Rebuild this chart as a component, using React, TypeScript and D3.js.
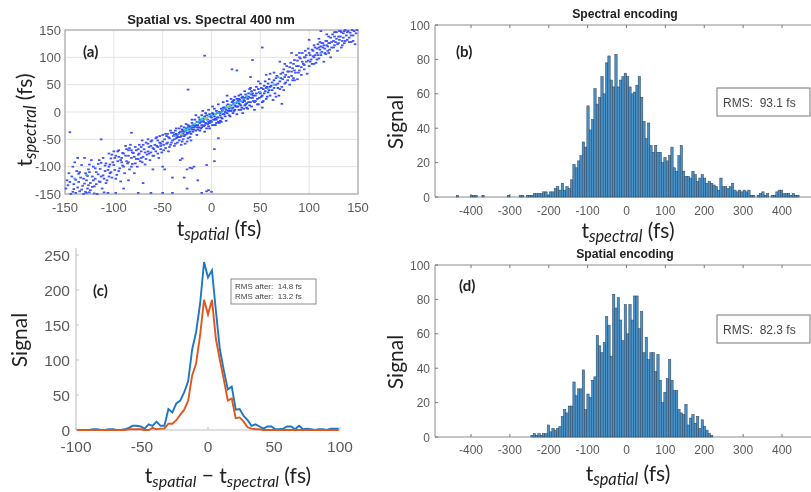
import React from "react";
import * as d3 from "d3";

// ---------- panel (a): cells, [tSpatial, tSpectral]
const outlierCells: number[][] = [[-7,103],[21,78],[26,76],[52,118],[42,95],[-24,41],[-145,-37],[-113,-50],[-82,-38],[7,-48],[-22,-102],[-20,-103],[-18,-100],[-25,-105],[-14,-125],[-5,-97],[3,-68],[3,-90],[-25,-140],[-10,-148],[-5,-145],[-3,-143],[0,-146],[-40,-148],[-50,-148],[72,15],[-32,-88],[-50,-100],[-48,-105],[-60,-105],[-28,-120],[-30,-85],[-70,-130],[-85,-125],[-98,-148],[-75,-148],[-62,-148],[-90,-140],[-40,-120]];
const lowBandCells: number[][] = [[-149,-140],[-148,-125],[-146,-112],[-144,-150],[-143,-118],[-142,-100],[-141,-132],[-140,-92],[-139,-148],[-138,-108],[-137,-84],[-136,-128],[-135,-145],[-134,-120],[-133,-97],[-132,-135],[-131,-150],[-130,-84],[-129,-112],[-128,-125],[-127,-140],[-126,-105],[-125,-147],[-124,-130],[-123,-88],[-122,-118],[-121,-100],[-120,-136],[-119,-122],[-118,-110],[-117,-150],[-116,-95],[-115,-127],[-114,-104],[-113,-118],[-112,-140],[-111,-84],[-110,-122],[-109,-108],[-108,-94],[-107,-125],[-106,-148],[-105,-100],[-104,-112],[-103,-85],[-102,-120],[-101,-92],[-100,-72],[-99,-106],[-98,-80],[-97,-115],[-96,-90],[-95,-70],[-94,-103],[-93,-127],[-92,-84],[-91,-98],[-90,-76],[-89,-112],[-88,-62],[-87,-90],[-86,-94],[-85,-70],[-84,-105],[-83,-60],[-82,-84],[-81,-95],[-80,-75],[-79,-112],[-78,-64],[-77,-86],[-76,-100],[-75,-78],[-74,-60],[-73,-90],[-72,-72],[-71,-52],[-70,-82],[-69,-68],[-68,-96],[-67,-56],[-66,-78],[-65,-72],[-64,-64],[-63,-88],[-62,-74],[-61,-52],[-60,-66],[-59,-80],[-58,-60],[-57,-72],[-56,-46],[-55,-64],[-54,-84],[-53,-56],[-52,-68],[-51,-74],[-50,-42],[-49,-60],[-48,-50],[-47,-66],[-46,-44],[-45,-56],[-44,-72],[-43,-48],[-42,-60],[-41,-38],[-40,-52],[-39,-44],[-38,-62],[-37,-34],[-36,-48],[-35,-56],[-34,-40],[-33,-30],[-32,-46],[-31,-60],[-30,-36],[-29,-50],[-28,-28],[-27,-42],[-26,-34],[-25,-54],[-24,-24],[-23,-38],[-22,-46],[-21,-30],[-20,-20],[-142,-146],[-128,-148],[-110,-147],[-120,-149],[-135,-110],[-125,-96],[-115,-88],[-105,-76],[-95,-82],[-85,-80],[-75,-68],[-65,-58],[-55,-52],[-45,-40],[-35,-46],[-104,-96],[-92,-92],[-82,-70],[-72,-84],[-62,-62],[-52,-58]];
const lowBandMore: number[][] = [[-147,-134],[-145,-128],[-141,-141],[-139,-124],[-137,-138],[-136,-113],[-133,-142],[-131,-122],[-130,-131],[-129,-146],[-127,-117],[-126,-134],[-125,-110],[-124,-143],[-122,-137],[-121,-125],[-119,-103],[-118,-132],[-116,-114],[-114,-128],[-113,-93],[-111,-116],[-109,-98],[-108,-130],[-106,-106],[-105,-118],[-103,-110],[-102,-78],[-100,-97],[-99,-84],[-98,-122],[-96,-72],[-95,-108],[-93,-88],[-91,-75],[-90,-100],[-88,-80],[-87,-68],[-85,-92],[-84,-66],[-82,-100],[-81,-74],[-79,-82],[-78,-94],[-77,-70],[-75,-86],[-74,-76],[-72,-64],[-71,-92],[-70,-60],[-68,-74],[-67,-86],[-65,-50],[-64,-76],[-62,-54],[-60,-80],[-59,-68],[-57,-48],[-56,-62],[-55,-76],[-53,-44],[-52,-62],[-50,-54],[-49,-70],[-47,-40],[-46,-58],[-44,-46],[-43,-64],[-42,-34],[-41,-56],[-39,-38],[-38,-50],[-37,-58],[-36,-30],[-35,-42],[-33,-52],[-32,-36],[-31,-26],[-30,-54],[-29,-34],[-28,-44],[-27,-58],[-26,-22],[-25,-40],[-24,-48],[-23,-28],[-22,-36],[-21,-52],[-20,-32]];
const coreCells: number[][] = [[-19,-36],[-18,-28],[-17,-14],[-16,-24],[-15,-42],[-14,-32],[-13,-10],[-12,-20],[-11,-30],[-10,-6],[-9,-16],[-8,-26],[-7,-36],[-6,-2],[-5,-12],[-4,-22],[-3,4],[-2,-30],[-1,-8],[0,-18],[1,10],[2,-4],[3,-14],[4,-24],[5,2],[6,-10],[7,14],[8,-20],[9,-2],[10,6],[11,-12],[12,18],[13,-4],[14,8],[15,-16],[16,20],[17,2],[18,12],[19,-8],[20,24],[21,6],[22,-2],[23,16],[24,28],[25,10],[26,-4],[27,20],[28,4],[29,14],[30,32],[31,8],[32,-2],[33,22],[34,38],[35,14],[36,28],[37,6],[38,18],[39,42],[40,26],[41,10],[42,34],[43,20],[44,4],[45,30],[46,46],[47,24],[48,14],[49,36],[50,52],[51,28],[52,18],[53,42],[54,34],[55,56],[56,24],[57,46],[58,36],[59,60],[60,30],[61,48],[62,40],[63,22],[64,58],[65,34],[66,50],[67,66],[68,44],[69,30],[70,56],[-16,-6],[-9,2],[-3,-26],[3,6],[9,-16],[16,30],[23,2],[28,30],[34,12],[41,32]];
const coreMore: number[][] = [[-38,-42],[-36,-40],[-34,-46],[-33,-38],[-31,-44],[-30,-32],[-29,-40],[-28,-36],[-26,-30],[-25,-38],[-24,-28],[-23,-32],[-22,-26],[-21,-40],[-20,-28],[-19,-24],[-18,-32],[-17,-26],[-16,-34],[-15,-18],[-14,-24],[-13,-28],[-12,-14],[-11,-18],[-10,-24],[-9,-12],[-8,-18],[-7,-8],[-6,-20],[-5,-6],[-4,-14],[-3,-18],[-2,-4],[-1,-16],[0,-10],[1,-24],[2,-14],[3,-8],[4,-12],[5,-20],[6,-2],[7,-10],[8,0],[9,-6],[10,-10],[11,2],[12,-4],[13,8],[14,0],[15,4],[16,-2],[17,14],[18,6],[19,2],[20,12],[21,18],[22,8],[23,22],[24,4],[25,16],[26,24],[27,10],[28,16],[29,22],[30,12],[31,26],[32,18],[33,6],[34,26],[35,32],[36,16],[37,24],[38,34],[39,12],[40,18],[41,38],[42,26],[43,30],[44,40],[45,20],[46,34],[47,14],[48,42],[49,26],[50,34],[51,44],[52,30],[53,20],[54,48],[55,38],[56,44],[57,28],[58,52],[59,40],[60,46],[-20,-14],[-15,-28],[-12,-34],[-10,-28],[-7,-24],[-5,-30],[-2,-20],[1,-2],[3,-24],[5,-14],[7,-18],[10,-18],[12,8],[14,-8],[16,12],[18,-6],[20,2],[22,20],[24,12],[26,10],[28,24],[30,4],[32,28],[34,20],[36,8],[38,28],[40,44]];
const highBandCells: number[][] = [[71,70],[72,46],[73,60],[74,78],[75,52],[76,68],[77,84],[78,58],[79,74],[80,50],[81,90],[82,66],[83,80],[84,62],[85,95],[86,72],[87,104],[88,60],[89,84],[90,76],[91,98],[92,68],[93,108],[94,88],[95,78],[96,100],[97,92],[98,70],[99,116],[100,84],[101,104],[102,96],[103,88],[104,112],[105,100],[106,118],[107,90],[108,108],[109,124],[110,98],[111,114],[112,104],[113,126],[114,118],[115,92],[116,108],[117,130],[118,122],[119,112],[120,138],[121,126],[122,100],[123,118],[124,142],[125,130],[126,122],[127,146],[128,134],[129,112],[130,126],[131,148],[132,138],[133,118],[134,130],[135,144],[136,126],[137,150],[138,140],[139,132],[140,148],[141,136],[142,145],[143,128],[144,150],[145,140],[146,148],[147,124],[148,144],[149,150],[112,148],[100,132],[90,108],[82,108],[75,88],[110,134],[118,142],[126,146],[132,148],[70,92],[60,70],[56,68],[48,56],[40,64],[64,72],[74,40],[66,28],[52,8],[44,18],[85,58],[95,100],[105,88],[115,122],[120,108],[108,96]];
const highBandMore: number[][] = [[62,54],[64,44],[66,62],[68,52],[70,42],[71,62],[73,72],[75,64],[76,54],[78,74],[79,64],[80,82],[82,74],[83,58],[84,88],[85,76],[87,84],[88,94],[89,72],[90,100],[92,82],[93,92],[95,86],[96,112],[97,104],[99,94],[100,108],[101,92],[103,114],[104,102],[105,122],[106,104],[108,116],[109,104],[110,118],[111,128],[112,120],[113,110],[114,126],[116,116],[117,106],[118,130],[119,120],[120,126],[121,114],[122,136],[123,128],[125,118],[126,138],[127,128],[128,146],[129,124],[130,138],[131,132],[133,146],[134,122],[135,136],[136,148],[137,130],[139,146],[141,128],[143,140],[145,130]];
// the densest cells, by colour level
const midCells: number[][] = [[-34,-40],[-30,-42],[-27,-34],[-24,-30],[-20,-26],[-17,-22],[-14,-18],[-10,-14],[-6,-12],[-3,-8],[0,-6],[4,-4],[7,-2],[12,4],[15,8],[18,10],[22,14],[26,18],[30,20],[36,28],[40,34],[58,42],[68,64],[-140,-122],[-128,-115],[112,108],[-22,-30],[-12,-16],[-8,-14],[10,0],[20,8],[28,18],[33,24],[64,50],[50,36],[-38,-44]];
const hotCells: number[][] = [[-27,-32],[-24,-34],[-18,-22],[-10,-13],[-6,-11],[4,-3],[16,9],[19,12],[24,16],[36,30]];
const peakCells: number[][] = [[-5,-12],[17,11],[-31,-40]];

// ---------- panel (c)
const diffX: number[] = d3.range(-99, 100, 3);
const blueCounts: number[] = [0,0,0,0,1,1,0,0,1,1,0,0,1,3,6,6,5,2,8,6,12,6,6,30,25,38,42,54,70,115,140,180,240,218,228,170,115,85,58,62,29,30,20,14,6,8,5,2,5,5,1,1,2,5,5,1,6,1,2,1,0,1,1,0,2,2,2];
const orangeCounts: number[] = [0,0,0,0,0,0,0,0,0,0,0,0,0,1,1,1,1,0,0,3,1,2,2,9,9,14,22,29,42,78,95,135,186,165,186,130,100,72,42,45,17,18,12,4,2,1,1,0,0,0,0,0,0,0,0,0,0,0,0,0,0,0,0,0,0,0,0];
const cLegend: string[] = ["RMS after:  14.8 fs", "RMS after:  13.2 fs"];
const cXTicks: number[] = [-100, -50, 0, 50, 100];
const cYTicks: number[] = [0, 50, 100, 150, 200, 250];

// ---------- histograms (b) and (d): 6 fs bins from -450 fs
const spectralCounts: number[] = [
  0,0,1,0,0,0,0,0,1,1,
  1,0,0,1,0,0,0,0,0,0,
  0,0,0,0,1,0,0,0,0,1,
  1,0,1,1,1,2,2,2,2,3,
  3,1,3,3,5,6,4,8,4,6,
  5,10,19,17,21,24,32,29,53,39,
  45,63,54,58,70,60,78,82,68,64,
  83,64,68,70,72,70,64,60,61,65,
  70,58,44,34,43,30,26,30,26,26,
  20,23,21,24,29,17,15,24,30,15,
  12,12,11,15,13,9,11,13,11,8,
  9,8,7,6,4,11,6,6,5,6,
  8,4,3,4,3,4,3,4,1,1,
  0,1,2,3,1,2,0,1,1,3,
  4,4,2,2,2,1,2,1,1,0,
];
const spatialCounts: number[] = [
  0,0,0,0,0,0,0,0,0,0,
  0,0,0,0,0,0,0,0,0,0,
  0,0,0,0,0,0,0,0,0,0,
  0,0,0,0,1,2,1,2,1,2,
  2,7,3,5,4,5,6,12,16,14,
  18,18,32,24,28,28,39,16,25,23,
  33,35,59,53,49,55,70,65,47,83,
  75,81,68,56,77,60,77,68,82,82,
  63,73,49,58,45,49,49,38,48,33,
  20,26,34,45,33,27,27,16,14,13,
  19,7,11,13,8,12,5,10,6,4,
  2,1,0,0,0,0,0,0,0,0,
  0,0,0,0,0,0,0,0,0,0,
  0,0,0,0,0,0,0,0,0,0,
  0,0,0,0,0,0,0,0,0,0,
];
const histXTicks: number[] = [-400, -300, -200, -100, 0, 100, 200, 300, 400];
const histYTicks: number[] = [0, 20, 40, 60, 80, 100];
const aTicks: number[] = [-150, -100, -50, 0, 50, 100, 150];

const SANS = "'Liberation Sans', Arial, sans-serif";
const LABEL = "Lato, 'Open Sans', sans-serif";
const TICK = "#5a5a5a";

function TSub({ x, y, sub, rest, rotate, size = 21 }: any) {
  return (
    <text x={x} y={y} textAnchor="middle" fontFamily={LABEL} fontSize={size} fill="#222"
      transform={rotate ? `rotate(-90 ${x} ${y})` : undefined}>
      t<tspan fontSize={size * 0.78} fontStyle="italic" dy={size * 0.2}>{sub}</tspan>
      <tspan dy={-size * 0.2}>{rest}</tspan>
    </text>
  );
}

function Panel({ label, lx, ly }: any) {
  return <text x={lx} y={ly} fontFamily={LABEL} fontWeight={700} fontSize={15} fill="#222">{label}</text>;
}

function Hist({ counts, top, bottom, title, titleY, rms, boxY, sub, xlY, tickY, label, lx, ly, ylY }: any) {
  const x = d3.scaleLinear().domain([-400, 400]).range([471, 782]);
  const y = d3.scaleLinear().domain([0, 100]).range([bottom, top]);
  const bw = x(6) - x(0);
  return (
    <g>
      <line x1={435} x2={811} y1={top} y2={top} stroke="#8c8c8c" strokeWidth={1} />
      <line x1={435} x2={811} y1={bottom} y2={bottom} stroke="#8c8c8c" strokeWidth={1} />
      <line x1={435} x2={435} y1={top} y2={bottom} stroke="#8c8c8c" strokeWidth={1} />
      {histXTicks.map((t) => (
        <g key={t}>
          <line x1={x(t)} x2={x(t)} y1={bottom} y2={bottom - 3} stroke="#777" />
          <line x1={x(t)} x2={x(t)} y1={top} y2={top + 3} stroke="#777" />
          <text x={x(t)} y={tickY} textAnchor="middle" fontFamily={SANS} fontSize={12} fill={TICK}>{t}</text>
        </g>
      ))}
      {histYTicks.map((t) => (
        <g key={t}>
          <line x1={435} x2={438} y1={y(t)} y2={y(t)} stroke="#777" />
          <text x={430} y={y(t) + 4.5} textAnchor="end" fontFamily={SANS} fontSize={12} fill={TICK}>{t}</text>
        </g>
      ))}
      {counts.map((c: number, i: number) => {
        const x0 = x(-450 + 6 * i);
        return c > 0 ? (
          <rect key={i} x={x0} y={y(c)} width={bw} height={bottom - y(c)} fill="#4a92c8" stroke="#2a4058" strokeWidth={0.5} />
        ) : null;
      })}
      <text x={625} y={titleY} textAnchor="middle" fontFamily={SANS} fontWeight={700} fontSize={12.2} fill="#222">{title}</text>
      <rect x={717} y={boxY} width={93} height={28} fill="#fff" stroke="#777" strokeWidth={1} />
      <text x={723} y={boxY + 18.5} fontFamily={SANS} fontSize={12} fill="#444" xmlSpace="preserve">{rms}</text>
      <TSub x={628} y={xlY} sub={sub} rest=" (fs)" />
      <text x={403} y={ylY} textAnchor="middle" fontFamily={LABEL} fontSize={21} fill="#222" transform={`rotate(-90 403 ${ylY})`}>Signal</text>
      <Panel label={label} lx={lx} ly={ly} />
    </g>
  );
}

export default function App() {
  // panel (a)
  const ax = d3.scaleLinear().domain([-150, 150]).range([65, 358]);
  const ay = d3.scaleLinear().domain([-150, 150]).range([194, 30]);
  const drawCells = (cells: number[][], color: string, key: string) =>
    cells.map(([cx, cy], i) => (
      <rect key={key + i} x={ax(cx) - 1.3} y={ay(cy) - 0.9} width={2.6} height={1.8} fill={color} />
    ));

  // panel (c)
  const cx = d3.scaleLinear().domain([-100, 100]).range([76, 340]);
  const cy = d3.scaleLinear().domain([0, 250]).range([430, 255]);
  const line = d3.line<number>().x((_, i) => cx(diffX[i])).y((d) => cy(d));

  return (
    <svg width={811} height={492} style={{ position: "absolute", left: 0, top: 0, background: "#fff" }}>
      <defs>
        <filter id="soft" x="-5%" y="-5%" width="110%" height="110%">
          <feGaussianBlur stdDeviation="0.4" />
        </filter>
        <filter id="page" x="0" y="0" width="100%" height="100%">
          <feGaussianBlur stdDeviation="0.3" />
        </filter>
      </defs>

      <g filter="url(#page)">
        <rect x={0} y={0} width={811} height={492} fill="#fff" />
        {/* (a) */}
        <g>
          {aTicks.map((t) => (
            <g key={t}>
              <line x1={ax(t)} x2={ax(t)} y1={30} y2={194} stroke="#e4e4e4" />
              <line x1={65} x2={358} y1={ay(t)} y2={ay(t)} stroke="#e4e4e4" />
              <text x={ax(t)} y={212} textAnchor="middle" fontFamily={SANS} fontSize={13} fill={TICK}>{t}</text>
              <text x={61} y={ay(t) + 4.5} textAnchor="end" fontFamily={SANS} fontSize={13} fill={TICK}>{t}</text>
            </g>
          ))}
          <rect x={65} y={30} width={293} height={164} fill="none" stroke="#9a9a9a" />
          <g filter="url(#soft)">
            {drawCells(outlierCells, "#3f52f5", "o")}
            {drawCells(lowBandCells, "#3f52f5", "l")}
            {drawCells(lowBandMore, "#3f52f5", "L")}
            {drawCells(coreCells, "#2f49f8", "c")}
            {drawCells(coreMore, "#2f49f8", "C")}
            {drawCells(highBandCells, "#3f52f5", "h")}
            {drawCells(highBandMore, "#3f52f5", "H")}
            {drawCells(midCells, "#35a8f0", "m")}
            {drawCells(hotCells, "#3fd29a", "t")}
            {drawCells(peakCells, "#c8d040", "p")}
          </g>
          <text x={211} y={24} textAnchor="middle" fontFamily={SANS} fontWeight={700} fontSize={13} fill="#222">Spatial vs. Spectral 400 nm</text>
          <Panel label="(a)" lx={83} ly={57} />
          <TSub x={219} y={236} sub="spatial" rest=" (fs)" />
          <TSub x={32} y={120} sub="spectral" rest=" (fs)" rotate />
        </g>

        {/* (c) */}
        <g>
          <line x1={76} x2={76} y1={248} y2={430} stroke="#bdbdbd" />
          <line x1={76} x2={340} y1={430} y2={430} stroke="#bdbdbd" />
          {cXTicks.map((t) => (
            <g key={t}>
              <line x1={cx(t)} x2={cx(t)} y1={430} y2={427} stroke="#bdbdbd" />
              <text x={cx(t)} y={452} textAnchor="middle" fontFamily={SANS} fontSize={15.5} fill={TICK}>{t}</text>
            </g>
          ))}
          {cYTicks.map((t) => (
            <g key={t}>
              <line x1={76} x2={79} y1={cy(t)} y2={cy(t)} stroke="#bdbdbd" />
              <text x={70} y={cy(t) + 5.5} textAnchor="end" fontFamily={SANS} fontSize={15.5} fill={TICK}>{t}</text>
            </g>
          ))}
          <path d={line(blueCounts) ?? ""} fill="none" stroke="#1f77c4" strokeWidth={1.9} />
          <path d={line(orangeCounts) ?? ""} fill="none" stroke="#e2561e" strokeWidth={1.9} />
          <rect x={231} y={279} width={85} height={25} fill="#fff" stroke="#8a8a8a" />
          {cLegend.map((s, i) => (
            <text key={i} x={235} y={289 + i * 10} fontFamily={SANS} fontSize={8} fill="#444" xmlSpace="preserve">{s}</text>
          ))}
          <Panel label="(c)" lx={93} ly={296} />
          <text x={27} y={340} textAnchor="middle" fontFamily={LABEL} fontSize={21} fill="#222" transform="rotate(-90 27 340)">Signal</text>
          <text x={228} y={483} textAnchor="middle" fontFamily={LABEL} fontSize={21} fill="#222">
            t<tspan fontSize={16} fontStyle="italic" dy={4}>spatial</tspan>
            <tspan dy={-4}> − t</tspan>
            <tspan fontSize={16} fontStyle="italic" dy={4}>spectral</tspan>
            <tspan dy={-4}> (fs)</tspan>
          </text>
        </g>

        <Hist counts={spectralCounts} top={25} bottom={197} title="Spectral encoding" titleY={18} rms="RMS:  93.1 fs" boxY={88} sub="spectral" xlY={238} tickY={215} label="(b)" lx={456} ly={57} ylY={122} />
        <Hist counts={spatialCounts} top={265} bottom={437} title="Spatial encoding" titleY={258} rms="RMS:  82.3 fs" boxY={315} sub="spatial" xlY={481} tickY={454} label="(d)" lx={459} ly={291} ylY={362} />
      </g>
    </svg>
  );
}
